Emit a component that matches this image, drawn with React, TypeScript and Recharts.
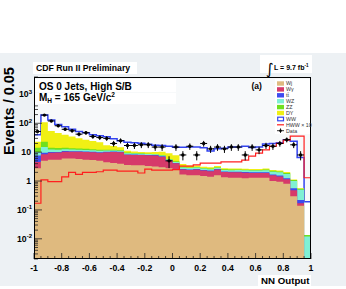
import React from 'react';
import { ComposedChart, Area, Line, Scatter, XAxis, YAxis, ErrorBar } from 'recharts';

const W = 346, H = 289;
const PL = 34, PR = 311, PT = 77, PB = 259;
const YMIN = 0.002, YMAX = 4000;
const FONT = '"Liberation Sans", Arial, Helvetica, sans-serif';

// bin low edges (40 bins of width 0.05 from -1 to 1)
const binLow = Array.from({ length: 40 }, (_, i) => Math.round((-1 + 0.05 * i) * 100) / 100);

// background components (events / 0.05)
const wj = [2.8, 5.0, 5.5, 5.5, 6.0, 6.0, 5.8, 5.5, 5.3, 5.0, 4.5, 4.2, 4.0, 3.6, 3.5, 3.5, 3.3, 3.2, 3.0, 2.8, 2.6, 1.7, 1.6, 1.6, 1.5, 1.4, 1.6, 1.35, 1.3, 1.3, 1.25, 1.3, 1.3, 1.3, 1.0, 0.95, 0.8, 0.3, 0.14, 0];
const wg = [1.8, 3.5, 4.0, 4.2, 4.4, 4.4, 4.5, 4.6, 4.6, 4.6, 5.5, 6.0, 6.0, 4.5, 4.5, 4.5, 4.5, 4.5, 4.0, 2.2, 1.5, 0.8, 0.8, 0.9, 0.8, 0.8, 0.9, 0.7, 0.7, 0.7, 0.7, 0.6, 0.6, 0.6, 0.6, 0.5, 0.35, 0.18, 0.03, 0];
const tt = [3.0, 1.0, 0.6, 0.5, 0.5, 0.45, 0.4, 0.4, 0.35, 0.35, 0.3, 0.3, 0.3, 0.25, 0.25, 0.2, 0.2, 0.2, 0.2, 0.15, 0.15, 0.12, 0.12, 0.12, 0.1, 0.1, 0.1, 0.1, 0.1, 0.1, 0.1, 0.1, 0.1, 0.1, 0.1, 0.1, 0.1, 0.08, 0.05, 0];
const wz = [2.5, 5.7, 2.2, 2.0, 1.8, 1.6, 1.5, 1.4, 1.3, 1.2, 1.1, 1.0, 0.9, 0.8, 0.7, 0.6, 0.55, 0.5, 0.45, 0.4, 0.35, 0.3, 0.3, 0.3, 0.3, 0.28, 0.28, 0.28, 0.28, 0.3, 0.3, 0.3, 0.3, 0.35, 0.4, 0.45, 0.5, 0.45, 0.28, 0.012];
const zz = [4.0, 7.7, 2.0, 1.8, 1.5, 1.3, 1.2, 1.1, 1.0, 0.9, 0.8, 0.7, 0.6, 0.5, 0.4, 0.35, 0.3, 0.3, 0.25, 0.2, 0.2, 0.15, 0.15, 0.15, 0.15, 0.12, 0.12, 0.12, 0.12, 0.12, 0.12, 0.12, 0.12, 0.15, 0.15, 0.15, 0.15, 0.08, 0.04, 0.0015];
const dy = [9, 85, 40, 32, 26, 21, 17, 14, 12, 10, 5, 4, 3, 1.5, 1.2, 1.0, 1.0, 1.5, 2.5, 3.5, 3.0, 0.8, 0.5, 0.4, 0.3, 0.3, 0.3, 0.2, 0.2, 0.2, 0.2, 0.2, 0.2, 0.2, 0.15, 0.15, 0.15, 0.05, 0.02, 0];
const ww = [17, 84, 76, 44, 35, 27, 22, 20, 15.5, 15, 17, 13, 10, 11, 10.5, 10, 9, 7, 6.5, 6.8, 7, 11, 11.5, 11.5, 11, 8, 9.7, 11, 12.3, 12.3, 13.3, 12, 12.4, 16.3, 17.6, 18.7, 25, 22.9, 6, 0.18];
// signal HWW x 10
const hww = [0.17, 1.1, 0.95, 0.95, 1.4, 2.0, 1.7, 2.0, 2.0, 2.1, 2.4, 2.4, 2.2, 2.2, 2.2, 1.9, 2.6, 2.4, 2.4, 2.4, 2.5, 3.3, 3.3, 3.6, 4.2, 4.2, 4.2, 4.6, 4.6, 4.6, 5.3, 7.3, 9.3, 12, 16, 20, 26, 36, 36, 1.3];
// observed data and errors
const dataVals = [52, 192, 120, 82, 62, 55, 42, 47, 35, 32, 30, 20, 25, 17, 17, 18, 18, 15, 15, 5, 15, 8, 16, 8, 20, 13, 15, 13, 15, 15, 8, 15, 12, 17, 16, 20, 27, 18, 8, null];
const dataErr = [7.2, 13.9, 11, 9.1, 7.9, 7.4, 6.5, 6.9, 5.9, 5.7, 5.5, 4.5, 5, 4.1, 4.1, 4.2, 4.2, 3.9, 3.9, 2.2, 3.9, 2.8, 4, 2.8, 4.5, 3.6, 3.9, 3.6, 3.9, 3.9, 2.8, 3.9, 3.5, 4.1, 4, 4.5, 5.2, 4.2, 2.8, 0];

const yMajor = [0.01, 0.1, 1, 10, 100, 1000];
const yLabels: Record<string, [string, string]> = {
  '0.01': ['10', '-2'], '0.1': ['10', '-1'], '1': ['1', ''], '10': ['10', ''], '100': ['10', '2'], '1000': ['10', '3'],
};
const xMajor = [-1, -0.8, -0.6, -0.4, -0.2, 0, 0.2, 0.4, 0.6, 0.8, 1];

const COL = {
  wj: '#dfba7f', wg: '#d63a6a', tt: '#3d4bef', wz: '#7ff0d4', zz: '#6fe01e', dy: '#f0f014', ww: '#ffffff', wwLine: '#3344f0', hww: '#ff1f1f',
};

const fl = (v: number) => Math.max(v, YMIN);
const rows = binLow.map((x, i) => {
  const a = wj[i], b = a + wg[i], c = b + tt[i], d = c + wz[i], e = d + zz[i], f = e + dy[i], g = f + ww[i];
  return { x, cWJ: fl(a), cWG: fl(b), cTT: fl(c), cWZ: fl(d), cZZ: fl(e), cDY: fl(f), cWW: fl(g), hww: hww[i] };
});
rows.push({ ...rows[rows.length - 1], x: 1 });

const pts = binLow
  .map((x, i) => ({ x: Math.round((x + 0.025) * 1000) / 1000, y: dataVals[i], ey: dataErr[i], ex: 0.025 }))
  .filter((p) => p.y !== null);

const yTicks: number[] = [];
for (let k = -3; k <= 3; k++) {
  for (let m = 1; m <= 9; m++) {
    const v = Number((m * Math.pow(10, k)).toPrecision(3));
    if (v >= YMIN && v <= YMAX) yTicks.push(v);
  }
}
const xTicks = Array.from({ length: 41 }, (_, i) => Math.round((-1 + 0.05 * i) * 100) / 100);

const isMajorY = (v: number) => yMajor.some((m) => Math.abs(m - v) / m < 1e-6);
const isMajorX = (v: number) => xMajor.some((m) => Math.abs(m - v) < 1e-6);

const YTick = (props: any) => {
  const { y, payload } = props;
  const v = payload.value;
  const major = isMajorY(v);
  const lab = major ? yLabels[String(v)] : null;
  return (
    <g>
      <line x1={PL} x2={PL + (major ? 8 : 4)} y1={y} y2={y} stroke="#222" strokeWidth={0.8} />
      {lab && (
        <text x={lab[1] ? 32 : 31} y={y} dy="0.35em" textAnchor="end" fontFamily={FONT} fontWeight="bold" fontSize={8.7} fill="#000">
          {lab[0]}
          {lab[1] && <tspan dy={-3.5} fontSize={6}>{lab[1]}</tspan>}
        </text>
      )}
    </g>
  );
};

const XTick = (props: any) => {
  const { x, payload } = props;
  const v = payload.value;
  const major = isMajorX(v);
  return (
    <g>
      <line x1={x} x2={x} y1={PB} y2={PB - (major ? 6 : 3)} stroke="#222" strokeWidth={0.8} />
      {major && (
        <text x={x} y={271} textAnchor="middle" fontFamily={FONT} fontWeight="bold" fontSize={8.7} fill="#000">
          {v === 0 ? '0' : String(v)}
        </text>
      )}
    </g>
  );
};

const legendItems = [
  { k: 'fill', c: COL.wj, t: 'Wj' },
  { k: 'fill', c: COL.wg, t: 'Wγ' },
  { k: 'fill', c: COL.tt, t: 'tt̄' },
  { k: 'fill', c: COL.wz, t: 'WZ' },
  { k: 'fill', c: COL.zz, t: 'ZZ' },
  { k: 'fill', c: COL.dy, t: 'DY' },
  { k: 'box', c: COL.wwLine, t: 'WW' },
  { k: 'line', c: COL.hww, t: 'HWW × 10' },
  { k: 'data', c: '#000', t: 'Data' },
];

const DataDot = (p: any) => <circle cx={p.cx} cy={p.cy} r={1.7} fill="#000" />;

export default function App() {
  return (
    <div style={{ position: 'fixed', left: 0, top: 0, width: W, height: H, background: '#fff' }}>
      <svg width={W} height={H} style={{ position: 'absolute', left: 0, top: 0 }}>
        <rect x={0} y={53} width={W} height={233} fill="#edf1f4" />
        <rect x={PL} y={PT} width={PR - PL} height={PB - PT} fill="#f7f9fa" />
      </svg>
      <div style={{ position: 'absolute', left: 0, top: 0 }}>
        <ComposedChart width={W} height={H} data={rows} margin={{ top: PT, right: W - PR, bottom: 0, left: 0 }}>
          <Area type="stepAfter" dataKey="cWW" stroke={COL.wwLine} strokeWidth={1.5} fill={COL.ww} fillOpacity={1} baseValue={YMIN} isAnimationActive={false} />
          <Area type="stepAfter" dataKey="cDY" stroke="none" fill={COL.dy} fillOpacity={1} baseValue={YMIN} isAnimationActive={false} />
          <Area type="stepAfter" dataKey="cZZ" stroke="none" fill={COL.zz} fillOpacity={1} baseValue={YMIN} isAnimationActive={false} />
          <Area type="stepAfter" dataKey="cWZ" stroke="none" fill={COL.wz} fillOpacity={1} baseValue={YMIN} isAnimationActive={false} />
          <Area type="stepAfter" dataKey="cTT" stroke="none" fill={COL.tt} fillOpacity={1} baseValue={YMIN} isAnimationActive={false} />
          <Area type="stepAfter" dataKey="cWG" stroke="none" fill={COL.wg} fillOpacity={1} baseValue={YMIN} isAnimationActive={false} />
          <Area type="stepAfter" dataKey="cWJ" stroke="none" fill={COL.wj} fillOpacity={1} baseValue={YMIN} isAnimationActive={false} />
          <Line type="stepAfter" dataKey="hww" stroke={COL.hww} strokeWidth={1.2} dot={false} isAnimationActive={false} />
          <Scatter data={pts} dataKey="y" shape={DataDot} isAnimationActive={false}>
            <ErrorBar dataKey="ey" direction="y" width={0} stroke="#000" strokeWidth={1} />
            <ErrorBar dataKey="ex" direction="x" width={0} stroke="#000" strokeWidth={1} />
          </Scatter>
          <XAxis type="number" dataKey="x" domain={[-1, 1]} ticks={xTicks} interval={0} axisLine={false} tickLine={false} tickSize={0} tickMargin={0} height={H - PB} tick={<XTick />} allowDataOverflow />
          <YAxis type="number" scale="log" domain={[YMIN, YMAX]} ticks={yTicks} interval={0} axisLine={false} tickLine={false} tickSize={0} tickMargin={0} width={PL} tick={<YTick />} allowDataOverflow />
        </ComposedChart>
      </div>
      <svg width={W} height={H} style={{ position: 'absolute', left: 0, top: 0, pointerEvents: 'none' }}>
        <rect x={PL + 0.5} y={PT + 0.5} width={PR - PL - 1} height={PB - PT - 1} fill="none" stroke="#000" strokeWidth={1} />
        <rect x={33} y={62} width={104} height={12} fill="#fff" />
        <text x={36} y={71} fontFamily={FONT} fontWeight="bold" fontSize={8.7}>CDF Run II Preliminary</text>
        <rect x={260} y={55} width={52} height={18} fill="#fff" />
        <text x={266} y={74} fontFamily='"DejaVu Sans", sans-serif' fontSize={15}>∫</text>
        <text x={274} y={70} fontFamily={FONT} fontWeight="bold" fontSize={7}>
          L = 9.7 fb<tspan dy={-3} fontSize={4.5}>-1</tspan>
        </text>
        <rect x={35} y={79} width={141} height={13} fill="#fff" />
        <text x={39} y={89.5} fontFamily={FONT} fontWeight="bold" fontSize={10}>OS 0 Jets, High S/B</text>
        <rect x={35} y={93} width={141} height={11} fill="#fff" />
        <text x={39} y={101} fontFamily={FONT} fontWeight="bold" fontSize={10}>
          M<tspan dy={2} fontSize={6.5}>H</tspan><tspan dy={-2}> = 165 GeV/c</tspan><tspan dy={-4} fontSize={6.5}>2</tspan>
        </text>
        <text x={251.5} y={89.3} fontFamily={FONT} fontWeight="bold" fontSize={8.5}>(a)</text>
        <rect x={275} y={79} width={35} height={55} fill="#fff" />
        {legendItems.map((it, i) => {
          const cy = 83.5 + i * 5.9;
          return (
            <g key={it.t}>
              {it.k === 'fill' && <rect x={277} y={cy - 2.2} width={7} height={4.4} fill={it.c} />}
              {it.k === 'box' && <rect x={277.7} y={cy - 1.7} width={5.8} height={3.6} fill="#fff" stroke={it.c} strokeWidth={1.2} />}
              {it.k === 'line' && <line x1={277} x2={284} y1={cy} y2={cy} stroke={it.c} strokeWidth={1.2} />}
              {it.k === 'data' && (
                <g>
                  <line x1={277} x2={284} y1={cy} y2={cy} stroke="#000" strokeWidth={0.8} />
                  <line x1={280.5} x2={280.5} y1={cy - 2.3} y2={cy + 2.3} stroke="#000" strokeWidth={0.8} />
                  <circle cx={280.5} cy={cy} r={1.3} fill="#000" />
                </g>
              )}
              <text x={286} y={cy} dy="0.35em" fontFamily={FONT} fontSize={5.3} fill="#333">{it.t}</text>
            </g>
          );
        })}
        <text transform="translate(14,111) rotate(-90)" textAnchor="middle" fontFamily={FONT} fontWeight="bold" fontSize={14.5}>Events / 0.05</text>
        <rect x={258} y={275} width={53} height={11} fill="#fff" />
        <text x={309.5} y={283.5} textAnchor="end" fontFamily={FONT} fontWeight="bold" fontSize={9.7}>NN Output</text>
      </svg>
    </div>
  );
}
